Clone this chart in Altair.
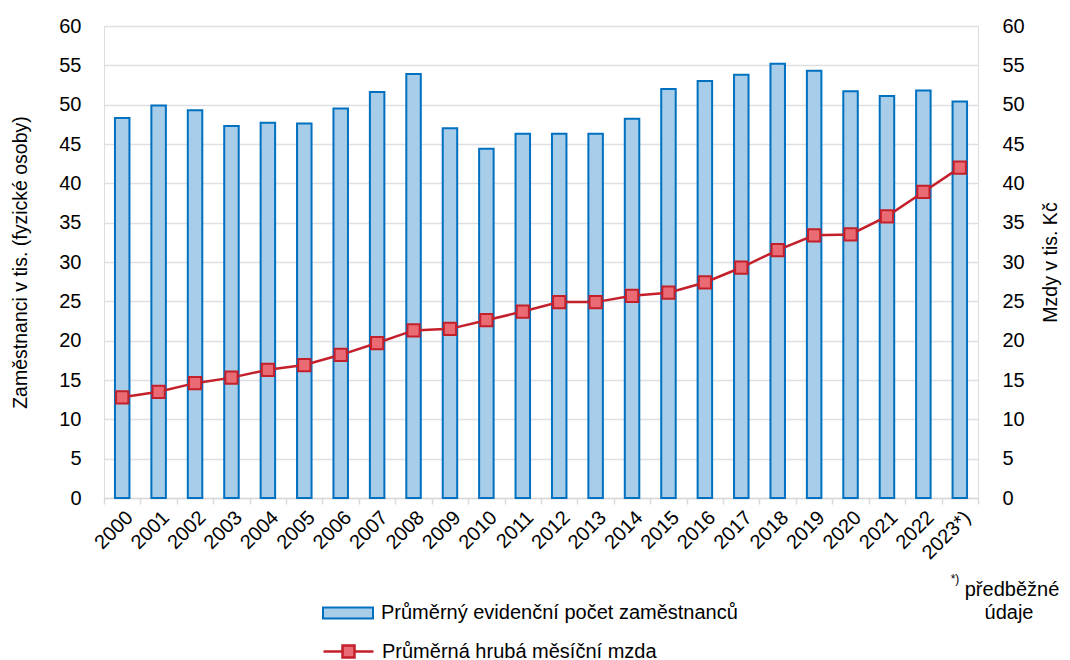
import altair as alt
import pandas as pd

years = ["2000", "2001", "2002", "2003", "2004", "2005", "2006", "2007", "2008", "2009",
         "2010", "2011", "2012", "2013", "2014", "2015", "2016", "2017", "2018", "2019",
         "2020", "2021", "2022", "2023*)"]
employees = [48.3, 49.9, 49.3, 47.3, 47.7, 47.6, 49.5, 51.6, 53.9, 47.0,
             44.4, 46.3, 46.3, 46.3, 48.2, 52.0, 53.0, 53.8, 55.2, 54.3,
             51.7, 51.1, 51.8, 50.4]
wages = [12.8, 13.5, 14.6, 15.3, 16.3, 16.9, 18.2, 19.7, 21.3, 21.5,
         22.6, 23.7, 24.9, 24.9, 25.7, 26.1, 27.4, 29.3, 31.5, 33.4,
         33.5, 35.8, 38.9, 42.0]
bar_label = "Průměrný evidenční počet zaměstnanců"
line_label = "Průměrná hrubá měsíční mzda"
y_left_title = "Zaměstnanci v tis. (fyzické osoby)"
y_right_title = "Mzdy v tis. Kč"
tick_values = list(range(0, 65, 5))

FONT = "Liberation Sans"
FS = 20
BAR_FILL = "#A7CDE8"
BAR_STROKE = "#0070C0"
LINE_C = "#C4202B"
MARK_FILL = "#EA6B73"

df = pd.DataFrame({"year": years, "emp": employees, "wage": wages,
                   "s1": bar_label, "s2": line_label})

W, H = 874, 472

x_enc = alt.X("year:N", sort=years, title=None,
              scale=alt.Scale(paddingInner=0, paddingOuter=0),
              axis=alt.Axis(labelAngle=-45, labelFont=FONT, labelFontSize=FS,
                            labelColor="#000000", domainColor="#D9D9D9", domainWidth=1.5,
                            tickColor="#D9D9D9", tickWidth=1.5, tickSize=6,
                            tickBand="extent", labelPadding=3))

bar_path = "M-1,-0.22 L1,-0.22 L1,0.22 L-1,0.22 Z"
line_path = "M-1,0 L-0.24,0 M0.24,0 L1,0 M-0.24,-0.24 L0.24,-0.24 L0.24,0.24 L-0.24,0.24 Z"

bars = alt.Chart(df).mark_bar(size=14.5, stroke=BAR_STROKE, strokeWidth=2).encode(
    x=x_enc,
    y=alt.Y("emp:Q", scale=alt.Scale(domain=[0, 60], nice=False),
            axis=alt.Axis(values=tick_values, title=y_left_title, orient="left",
                          labelFont=FONT, labelFontSize=FS, labelColor="#000000",
                          titleFont=FONT, titleFontSize=19.5, titleFontWeight="normal",
                          titleColor="#000000", ticks=False, domain=False,
                          labelPadding=23, grid=True, gridColor="#DDE0E4", gridWidth=1.5,
                          titleX=-84, titleY=H / 2, titleAngle=-90,
                          titleBaseline="middle", titleAlign="center")),
    fill=alt.Fill("s1:N", scale=alt.Scale(domain=[bar_label], range=[BAR_FILL]),
                  legend=alt.Legend(title=None, orient="none", legendX=218, legendY=561,
                                    symbolType=bar_path, symbolSize=2500,
                                    symbolStrokeColor=BAR_STROKE, symbolStrokeWidth=2,
                                    labelFont=FONT, labelFontSize=FS, labelColor="#000000",
                                    labelOffset=7, labelLimit=600)),
)

line = alt.Chart(df).mark_line(strokeWidth=2.5).encode(
    x=x_enc,
    y=alt.Y("wage:Q", scale=alt.Scale(domain=[0, 60], nice=False),
            axis=alt.Axis(values=tick_values, title=y_right_title, orient="right",
                          labelFont=FONT, labelFontSize=FS, labelColor="#000000",
                          titleFont=FONT, titleFontSize=19.5, titleFontWeight="normal",
                          titleColor="#000000", ticks=False, domain=False,
                          labelPadding=24, grid=False,
                          titleX=72, titleY=H / 2, titleAngle=-90,
                          titleBaseline="middle", titleAlign="center")),
    stroke=alt.Stroke("s2:N", scale=alt.Scale(domain=[line_label], range=[LINE_C]),
                      legend=alt.Legend(title=None, orient="none", legendX=218, legendY=599,
                                        symbolType=line_path, symbolSize=2500,
                                        symbolStrokeWidth=2.5, symbolFillColor=MARK_FILL,
                                        labelFont=FONT, labelFontSize=FS, labelColor="#000000",
                                        labelOffset=7, labelLimit=600)),
)

points = alt.Chart(df).mark_point(shape="square", size=150, filled=True, fill=MARK_FILL,
                                  stroke=LINE_C, strokeWidth=2, opacity=1).encode(
    x=x_enc,
    y=alt.Y("wage:Q", scale=alt.Scale(domain=[0, 60], nice=False), axis=None),
)

note_df = pd.DataFrame({"t": ["předběžné", "údaje"], "sup": ["*)", "*)"]})
note1 = alt.Chart(note_df.iloc[[0]]).mark_text(font=FONT, fontSize=FS, color="#000000",
                                               align="center", baseline="middle").encode(
    x=alt.value(908), y=alt.value(564), text="t:N")
note2 = alt.Chart(note_df.iloc[[1]]).mark_text(font=FONT, fontSize=FS, color="#000000",
                                               align="center", baseline="middle").encode(
    x=alt.value(905), y=alt.value(587), text="t:N")
note_sup = alt.Chart(note_df.iloc[[0]]).mark_text(font=FONT, fontSize=12, color="#000000",
                                                  align="center", baseline="middle").encode(
    x=alt.value(851), y=alt.value(553), text="sup:N")

chart = alt.layer(bars, line, points, note1, note2, note_sup).resolve_scale(
    y="independent", fill="independent", stroke="independent"
).properties(
    width=W, height=H,
    autosize=alt.AutoSizeParams(type="none"),
    padding={"left": 96, "top": 18, "right": 84, "bottom": 162},
).configure_view(stroke=None).configure(background="white")

chart.save("out.html", embed_options={"renderer": "svg", "actions": False})
